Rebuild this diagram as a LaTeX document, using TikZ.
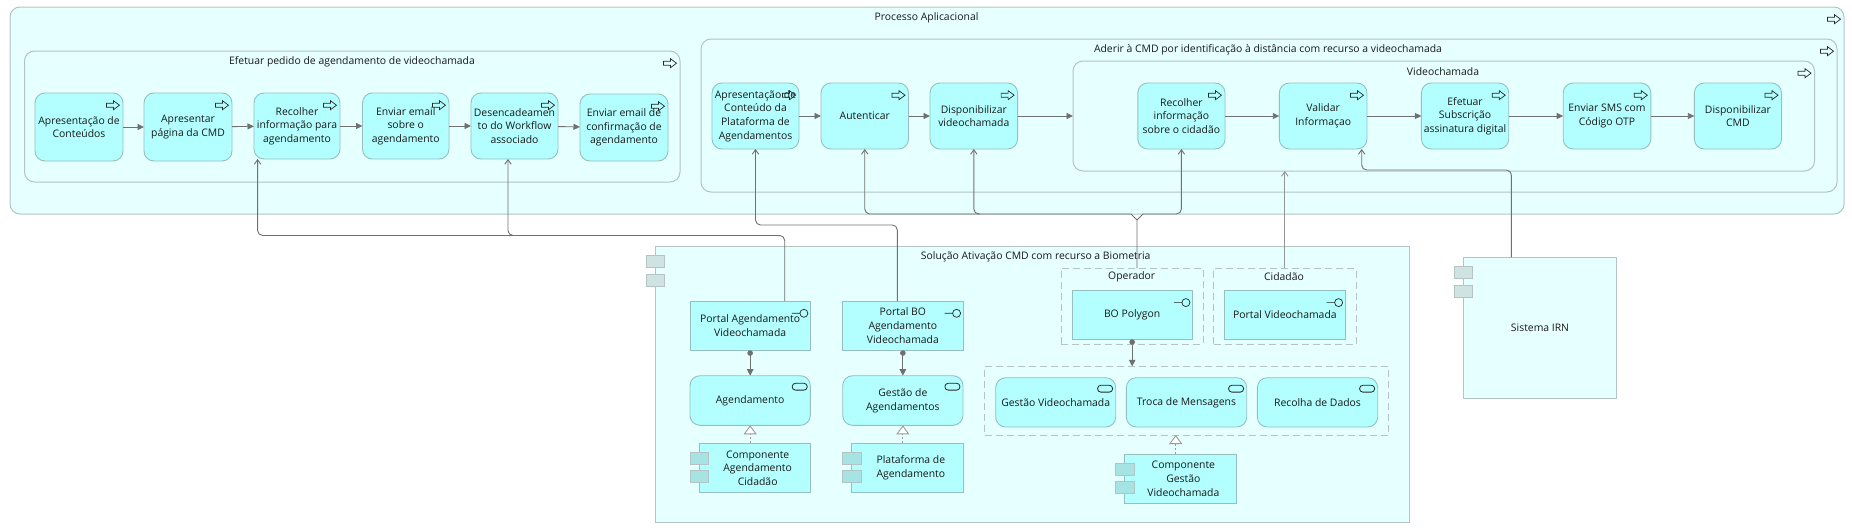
\documentclass[tikz,border=0pt]{standalone}
\usepackage{fontspec}
\setmainfont{Open Sans}
\usetikzlibrary{arrows.meta,calc}
\definecolor{boxfill}{HTML}{B3FFFF}
\definecolor{grpfill}{HTML}{E6FFFF}
\definecolor{boxline}{HTML}{96C0C0}
\definecolor{grpline}{HTML}{B4C4C4}
\definecolor{conn}{HTML}{707070}
\definecolor{lconn}{HTML}{959595}
\definecolor{smalla}{HTML}{A6E3E3}
\definecolor{smallb}{HTML}{CFE3E3}
\tikzset{
  base/.style={outer sep=0pt,inner sep=0pt,align=center,font=\fontsize{10.4}{13.6}\selectfont,text=black!90},
  procbox/.style={base,draw=boxline,fill=boxfill,line width=.9pt,rounded corners=10pt},
  appbox/.style={base,draw=boxline,fill=boxfill,line width=.9pt},
  grpbox/.style={base,draw=grpline,fill=grpfill,line width=1pt,rounded corners=10pt},
  flatbox/.style={base,draw=grpline,fill=grpfill,line width=1pt},
  dashbox/.style={base,draw=grpline,line width=1pt,dash pattern=on 7pt off 4pt},
  caption/.style={base},
  flow/.style={draw=conn,line width=.9pt,-{Triangle[width=6pt,length=6.5pt,fill=conn]}},
  opn/.style={draw=conn,line width=.9pt,rounded corners=5pt,-{Straight Barb[length=4.5pt,width=6.5pt]}},
  opnl/.style={opn,draw=lconn},
  assign/.style={draw=conn,line width=1.1pt,{Circle[length=5.5pt,fill=conn]}-{Triangle[width=6.5pt,length=6.5pt,fill=conn]}},
  realize/.style={draw=conn!70,line width=.9pt,dash pattern=on 2pt off 2pt,-{Triangle[open,width=13pt,length=9pt,fill=white]}},
  procicon/.pic={\draw[black!85,line width=.7pt] (-6.5,-2)--(.5,-2)--(.5,-4.5)--(6.5,0)--(.5,4.5)--(.5,2)--(-6.5,2)--cycle;},
  ifaceicon/.pic={\draw[black!85,line width=.7pt] (0,0) circle (4) (-4,0)--(-12,0);},
  svcicon/.pic={\draw[black!85,line width=.8pt,rounded corners=3.2pt] (-7.5,-3.4) rectangle (7.5,3.4);},
}
% style, name, x1, y1, x2, y2, text
\newcommand{\bx}[7]{\node[#1,minimum width={(#5-#3)*1pt},minimum height={(#6-#4)*1pt}] (#2) at ({(#3+#5)/2},{(#4+#6)/2}) {#7};}
\newcommand{\pico}[1]{\pic at ([shift={(-10pt,-12.2pt)}]#1.north east) {procicon};}
\newcommand{\ifico}[1]{\pic at ([shift={(-6.4pt,-12.3pt)}]#1.north east) {ifaceicon};}
\newcommand{\svico}[1]{\pic at ([shift={(-10.6pt,-11pt)}]#1.north east) {svcicon};}
% name, x1, y1 (first), y2 (second), colour
\newcommand{\tabs}[5]{%
  \node[draw=grpline,fill=#5,line width=.9pt,minimum width=18.7pt,minimum height=12pt,inner sep=0pt,outer sep=0pt] (#1a) at (#2+9.35,#3+6) {};
  \node[draw=grpline,fill=#5,line width=.9pt,minimum width=18.7pt,minimum height=12pt,inner sep=0pt,outer sep=0pt] (#1b) at (#2+9.35,#4+6) {};}
\begin{document}
\begin{tikzpicture}[x=1pt,y=-1pt]
\useasboundingbox (0,0) rectangle (1852,530);
% containers
\bx{grpbox}{outer}{10}{7}{1844}{214}{}
\node[caption] (outert) at (926.5,17.5) {Processo Aplicacional};
\pico{outer}
\bx{grpbox}{gl}{24.5}{51}{680}{182}{}
\node[caption] (glt) at (352,62) {Efetuar pedido de agendamento de videochamada};
\pico{gl}
\bx{grpbox}{gr}{701}{39}{1837}{192}{}
\node[caption] (grt) at (1268,50) {Aderir à CMD por identificação à distância com recurso a videochamada};
\pico{gr}
\bx{grpbox}{gv}{1073}{61}{1814.5}{171}{}
\node[caption] (gvt) at (1443,72) {Videochamada};
\pico{gv}
% left process row
\bx{procbox}{a1}{35}{93}{123}{161}{Apresentação de\\Conteúdos}
\bx{procbox}{a2}{144}{93}{232}{161}{Apresentar\\página da CMD}
\bx{procbox}{a3}{254}{93}{340}{159}{Recolher\\informação para\\agendamento}
\bx{procbox}{a4}{362.5}{93}{449}{159}{Enviar email\\sobre o\\agendamento}
\bx{procbox}{a5}{471}{93}{558}{159}{Desencadeamen\\to do Workflow\\associado}
\bx{procbox}{a6}{580}{94}{668}{161}{Enviar email de\\confirmação de\\agendamento}
\foreach \n in {a1,a2,a3,a4,a5,a6}{\pico{\n}}
% right process row
\bx{procbox}{b1}{712}{83}{799}{149}{Apresentação de\\Conteúdo da\\Plataforma de\\Agendamentos}
\bx{procbox}{b2}{821}{83}{908.5}{149}{Autenticar}
\bx{procbox}{b3}{930}{83}{1017.6}{149}{Disponibilizar\\videochamada}
\bx{procbox}{v1}{1137.8}{83}{1225}{149}{Recolher\\informação\\sobre o cidadão}
\bx{procbox}{v2}{1279.3}{83}{1367}{149}{Validar\\Informaçao}
\bx{procbox}{v3}{1421.4}{83}{1508.7}{149}{Efetuar\\Subscrição\\assinatura digital}
\bx{procbox}{v4}{1563.2}{83}{1650.8}{149}{Enviar SMS com\\Código OTP}
\bx{procbox}{v5}{1694.3}{83}{1781.5}{149}{Disponibilizar\\CMD}
\foreach \n in {b1,b2,b3,v1,v2,v3,v4,v5}{\pico{\n}}
% flows
\draw[flow] (a1) -- (a2);
\draw[flow] (a2) -- (a3);
\draw[flow] (a3) -- (a4);
\draw[flow] (a4) -- (a5);
\draw[flow] (a5) -- (a6);
\draw[flow] (b1) -- (b2);
\draw[flow] (b2) -- (b3);
\draw[flow] (b3.east) -- (b3.east -| gv.west);
\draw[flow] (v1) -- (v2);
\draw[flow] (v2) -- (v3);
\draw[flow] (v3) -- (v4);
\draw[flow] (v4) -- (v5);
% solution container
\bx{flatbox}{sol}{655}{246.5}{1409}{522.7}{}
\tabs{solt}{646}{255.5}{274}{smallb}
\node[caption] (solc) at (1035.7,257) {Solução Ativação CMD com recurso a Biometria};
\bx{dashbox}{op}{1061.3}{268.3}{1203.3}{344.3}{}
\node[caption] (opt) at (1131.7,276.5) {Operador};
\bx{dashbox}{ci}{1213.7}{268.3}{1356}{344.3}{}
\node[caption] (cit) at (1284,276.5) {Cidadão};
\bx{dashbox}{gd}{984.7}{366.3}{1388.7}{435}{}
% application interfaces
\bx{appbox}{pa}{690}{301}{810.3}{350.3}{Portal Agendamento\\Videochamada}
\bx{appbox}{pb}{842.7}{301}{963}{350.3}{Portal BO\\Agendamento\\Videochamada}
\bx{appbox}{bo}{1072}{290.3}{1192.3}{339.3}{BO Polygon}
\bx{appbox}{pv}{1224.7}{290.3}{1345}{339.3}{Portal Videochamada}
\foreach \n in {pa,pb,bo,pv}{\ifico{\n}}
% services
\bx{procbox}{sa}{690}{375.7}{810.3}{425.3}{Agendamento}
\bx{procbox}{sb}{842.7}{375.7}{963}{425.3}{Gestão de\\Agendamentos}
\bx{procbox}{s1}{995.7}{377.7}{1115.7}{427}{Gestão Videochamada}
\bx{procbox}{s2}{1126.3}{377.7}{1246.7}{427}{Troca de Mensagens}
\bx{procbox}{s3}{1257.3}{377.7}{1377.7}{427}{Recolha de Dados}
\foreach \n in {sa,sb,s1,s2,s3}{\svico{\n}}
% components
\bx{appbox,label={[base,xshift=3pt]center:Componente\\Agendamento\\Cidadão}}{ca}{699}{443.3}{810.3}{492.7}{}
\tabs{cat}{690}{452.3}{470.3}{smalla}
\bx{appbox,label={[base,xshift=3.5pt]center:Plataforma de\\Agendamento}}{cb}{851.7}{443.3}{963}{492.7}{}
\tabs{cbt}{842.7}{452.3}{470.3}{smalla}
\bx{appbox,label={[base,xshift=3pt]center:Componente\\Gestão\\Videochamada}}{cg}{1124.7}{454}{1236}{503.7}{}
\tabs{cgt}{1115.3}{463.3}{481.3}{smalla}
% IRN
\bx{flatbox}{irn}{1463.3}{257.3}{1616.7}{398.3}{Sistema IRN}
\tabs{irnt}{1454}{266.7}{285}{smallb}
% assignments and realisations
\draw[assign] (pa.south) -- (sa.north);
\draw[assign] (pb.south) -- (sb.north);
\draw[assign] (bo.south) -- (bo.south |- gd.north);
\draw[realize] (sa.south |- ca.north) -- (sa.south);
\draw[realize] (sb.south |- cb.north) -- (sb.south);
\coordinate (rg) at (1175.7,435);
\draw[realize] (rg |- cg.north) -- (rg);
% serving connectors
\coordinate (j1) at (784.7,235.5);
\coordinate (t3) at (257.6,159);
\coordinate (t5) at (508,159);
\draw[opn] (j1 |- pa.north) -- (j1) -- (t3 |- j1) -- (t3 |- a3.south);
\draw[opn] ($(t5 |- j1)+(8,0)$) -- (t5 |- j1) -- (t5 |- a5.south);
\coordinate (j2) at (897.3,225);
\draw[opn] (j2 |- pb.north) -- (j2) -- (b1.south |- j2) -- (b1.south);
\coordinate (j3) at (1137,214);
\draw[draw=conn,line width=.9pt] (j3 |- op.north) -- ($(j3)+(0,6)$) -- ($(j3)+(-6,0)$);
\draw[draw=conn,line width=.9pt] ($(j3)+(0,6)$) -- ($(j3)+(6,0)$);
\draw[opn] ($(j3)+(-6,0)$) -- (b2.south |- j3) -- (b2.south);
\draw[opn] ($(j3)+(6,0)$) -- (v1.south |- j3) -- (v1.south);
\draw[opn] ($(b3.south |- j3)+(6,0)$) -- (b3.south |- j3) -- (b3.south);
\coordinate (j4) at (1284.8,171);
\draw[opnl] (j4 |- ci.north) -- (j4 |- gv.south);
\coordinate (j5) at (1511.3,170);
\coordinate (t6) at (1361.7,149);
\draw[opn] (j5 |- irn.north) -- (j5) -- (t6 |- j5) -- (t6 |- v2.south);
\end{tikzpicture}
\end{document}
